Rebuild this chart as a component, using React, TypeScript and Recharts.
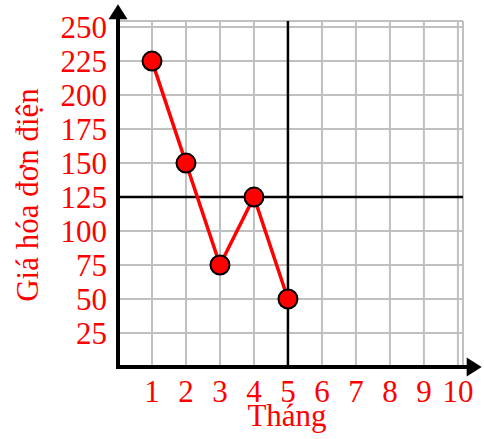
import { LineChart, Line, XAxis, YAxis, CartesianGrid, ReferenceLine } from 'recharts'

const months = [1, 2, 3, 4, 5]
const prices = [225, 150, 75, 125, 50]
const xTicks = [1, 2, 3, 4, 5, 6, 7, 8, 9, 10]
const yTicks = [25, 50, 75, 100, 125, 150, 175, 200, 225, 250]
const markMonth = 5
const markPrice = 125

const data = months.map((m, i) => ({ month: m, price: prices[i] }))

const FONT = '"Liberation Serif", "Times New Roman", serif'
const RED = '#ff0000'
const FS = 31

// axis line with a filled arrow head at its far end
const ArrowAxis = (p: any) => {
  const { x1, y1, x2, y2 } = p
  const dx = x2 - x1
  const dy = y2 - y1
  const len = Math.sqrt(dx * dx + dy * dy) || 1
  const ux = dx / len
  const uy = dy / len
  const head = 15
  const half = 9.5
  const bx = x2 - ux * head
  const by = y2 - uy * head
  const pts = `${x2},${y2} ${bx - uy * half},${by + ux * half} ${bx + uy * half},${by - ux * half}`
  return (
    <g>
      <line x1={x1 - ux * 2} y1={y1 - uy * 2} x2={bx + ux} y2={by + uy} stroke="#000" strokeWidth={4} />
      <polygon points={pts} fill="#000" />
    </g>
  )
}

export default function App() {
  return (
    <div style={{ position: 'absolute', left: 0, top: 0, background: '#fff' }}>
      <LineChart width={484} height={439} data={data} margin={{ top: 21, right: 21, left: 0, bottom: 0 }}>
        <CartesianGrid stroke="#c0c0c0" strokeWidth={2} />
        <XAxis
          dataKey="month"
          type="number"
          domain={[0, 10.15]}
          allowDataOverflow
          ticks={xTicks}
          interval={0}
          height={72}
          axisLine={false}
          tickLine={false}
          tickSize={0}
          tickMargin={13}
          tick={{ fill: RED, fontSize: FS, fontFamily: FONT }}
          label={{
            content: (props: any) => {
              const vb = props.viewBox || { x: 118, y: 367 }
              return (
                <text x={vb.x + 169} y={426} textAnchor="middle" fill={RED} fontSize={FS} fontFamily={FONT}>
                  Tháng
                </text>
              )
            },
          }}
        />
        <YAxis
          type="number"
          domain={[0, 254.5]}
          allowDataOverflow
          ticks={yTicks}
          interval={0}
          width={118}
          axisLine={false}
          tickLine={false}
          tickSize={0}
          tickMargin={11}
          tick={{ fill: RED, fontSize: FS, fontFamily: FONT }}
          label={{
            content: (props: any) => {
              const vb = props.viewBox || { x: 0, y: 21, height: 346 }
              const cy = vb.y + vb.height / 2 + 1
              return (
                <text
                  x={27}
                  y={cy}
                  transform={`rotate(-90, 27, ${cy})`}
                  textAnchor="middle"
                  dominantBaseline="central"
                  fill={RED}
                  fontSize={FS}
                  fontFamily={FONT}
                >
                  Giá hóa đơn điện
                </text>
              )
            },
          }}
        />
        <ReferenceLine x={markMonth} stroke="#000" strokeWidth={2.5} />
        <ReferenceLine y={markPrice} stroke="#000" strokeWidth={2.5} />
        <ReferenceLine segment={[{ x: 0, y: 0 }, { x: 10.7, y: 0 }]} ifOverflow="visible" shape={ArrowAxis} />
        <ReferenceLine segment={[{ x: 0, y: 0 }, { x: 0, y: 266.9 }]} ifOverflow="visible" shape={ArrowAxis} />
        <Line
          dataKey="price"
          stroke={RED}
          strokeWidth={3.5}
          dot={{ r: 9.5, fill: RED, stroke: '#000', strokeWidth: 2 }}
          isAnimationActive={false}
        />
      </LineChart>
    </div>
  )
}
